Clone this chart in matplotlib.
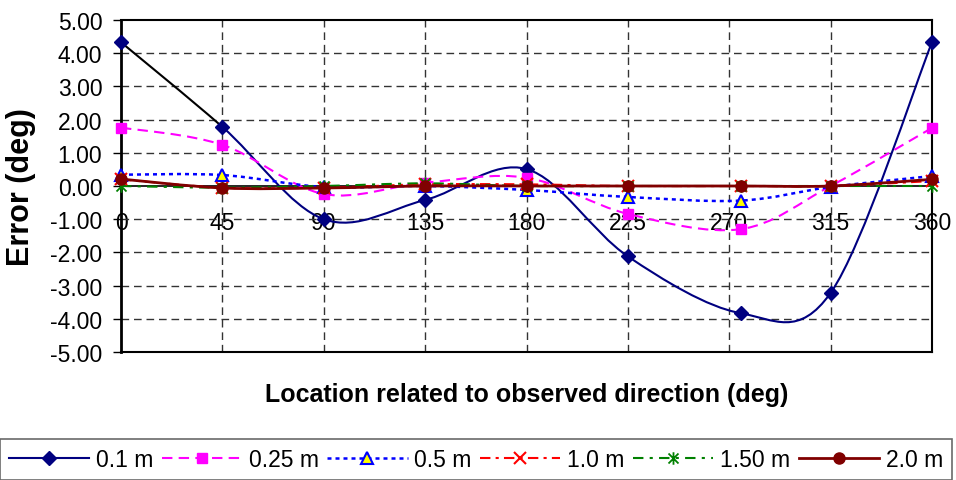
import numpy as np
import matplotlib
matplotlib.use("Agg")
import matplotlib.pyplot as plt
from matplotlib.path import Path
from matplotlib.patches import PathPatch
from matplotlib.lines import Line2D

plt.rcParams['font.family'] = ['Liberation Sans', 'DejaVu Sans']

# ---------------- data ----------------
locations = [0, 45, 90, 135, 180, 225, 275, 315, 360]
tick_values = [0, 45, 90, 135, 180, 225, 270, 315, 360]
tick_labels = ["0", "45", "90", "135", "180", "225", "270", "315", "360"]
series_names = ["0.1 m", "0.25 m", "0.5 m", "1.0 m", "1.50 m", "2.0 m"]
err_01 = [4.33, 1.78, -1.00, -0.42, 0.51, -2.12, -3.83, -3.22, 4.33]
err_025 = [1.76, 1.24, -0.24, 0.10, 0.25, -0.84, -1.30, 0.00, 1.75]
err_05 = [0.34, 0.33, -0.03, 0.00, -0.12, -0.33, -0.44, -0.03, 0.30]
err_10 = [0.20, -0.05, -0.05, 0.05, 0.05, 0.00, 0.00, 0.00, 0.15]
err_15 = [0.00, -0.05, 0.00, 0.08, 0.00, 0.00, 0.00, 0.00, 0.00]
err_20 = [0.21, -0.06, -0.06, 0.00, 0.00, 0.00, 0.00, 0.00, 0.20]
y_ticks = [-5, -4, -3, -2, -1, 0, 1, 2, 3, 4, 5]


def smooth_path(xs, ys, start=0, stop=None):
    """Excel-like smoothed line (Catmull-Rom Bezier) as a Path."""
    P = np.column_stack([xs, ys]).astype(float)
    n = len(P)
    if stop is None:
        stop = n - 1
    verts = [P[start]]
    codes = [Path.MOVETO]
    for i in range(start, stop):
        p0 = P[i - 1] if i > 0 else P[i]
        p1 = P[i]
        p2 = P[i + 1]
        p3 = P[i + 2] if i + 2 < n else P[i + 1]
        c1 = p1 + (p2 - p0) / 6.0
        c2 = p2 - (p3 - p1) / 6.0
        verts += [c1, c2, p2]
        codes += [Path.CURVE4] * 3
    return Path(verts, codes)


ast_marker = Path([(-1, -1), (1, 1), (-1, 1), (1, -1), (0, -1.25), (0, 1.25)],
                  [Path.MOVETO, Path.LINETO, Path.MOVETO, Path.LINETO, Path.MOVETO, Path.LINETO])

styles = [
    dict(color='#000080', ls='-', lw=1.5, marker='D', ms=7.5, mfc='#000080', mec='#000080', mew=1.0),
    dict(color='#FF00FF', ls=(0, (5, 3)), lw=1.5, marker='s', ms=7.5, mfc='#FF00FF', mec='#FF00FF', mew=1.0),
    dict(color='#0000FF', ls=(0, (1.6, 1.6)), lw=1.8, marker='^', ms=8, mfc='#FFFF00', mec='#0000FF', mew=1.5),
    dict(color='#FF0000', ls=(0, (5, 2.5, 1.5, 2.5)), lw=1.5, marker='x', ms=8, mfc='#FF0000', mec='#FF0000', mew=1.5),
    dict(color='#008000', ls=(0, (5, 3, 1.5, 3)), lw=1.5, marker=ast_marker, ms=9, mfc='#008000', mec='#008000', mew=1.3),
    dict(color='#800000', ls='-', lw=2.0, marker='o', ms=8, mfc='#800000', mec='#800000', mew=1.0),
]
all_series = [err_01, err_025, err_05, err_10, err_15, err_20]

fig = plt.figure(figsize=(9.56, 4.81), dpi=100)
ax = fig.add_axes([121 / 956, 1 - 353 / 481, (932 - 121) / 956, (353 - 21) / 481])

ax.set_xlim(0, 360)
ax.set_ylim(-5, 5)

# grid
for v in tick_values[1:-1]:
    ax.axvline(v, color='#333333', lw=1.0, ls=(0, (5.5, 3.5)), zorder=1)
for v in y_ticks[1:-1]:
    if v != 0:
        ax.axhline(v, color='#333333', lw=1.0, ls=(0, (5.5, 3.5)), zorder=1)

handles = []
for k, (vals, st) in enumerate(zip(all_series, styles)):
    if k == 0:
        p_first = smooth_path(locations, vals, 0, 1)
        ax.add_patch(PathPatch(p_first, fc='none', ec='black', lw=st['lw'], ls=st['ls'], zorder=3 + k))
        p_rest = smooth_path(locations, vals, 1)
        ax.add_patch(PathPatch(p_rest, fc='none', ec=st['color'], lw=st['lw'], ls=st['ls'], zorder=3 + k))
    else:
        p = smooth_path(locations, vals)
        ax.add_patch(PathPatch(p, fc='none', ec=st['color'], lw=st['lw'], ls=st['ls'],
                               capstyle='butt', zorder=3 + k))
    ax.plot(locations, vals, ls='none', marker=st['marker'], ms=st['ms'], mfc=st['mfc'],
            mec=st['mec'], mew=st['mew'], zorder=10 + k, clip_on=False)
    handles.append(Line2D([], [], color=st['color'], ls=st['ls'], lw=st['lw'], marker=st['marker'],
                          ms=st['ms'], mfc=st['mfc'], mec=st['mec'], mew=st['mew']))

# frame
for s in ['left', 'right', 'top', 'bottom']:
    ax.spines[s].set_color('black')
    ax.spines[s].set_linewidth(1.5)
ax.spines['left'].set_linewidth(2.0)

# main x axis: no ticks/labels
ax.set_xticks(tick_values)
ax.tick_params(axis='x', bottom=False, labelbottom=False)

# y axis
ax.set_yticks(y_ticks)
ax.set_yticklabels([f"{v:.2f}" for v in y_ticks])
ax.tick_params(axis='y', direction='out', length=5.5, width=1.0, pad=8, labelsize=16.5, colors='black')

# axis line at zero with the category labels
sec = ax.secondary_xaxis(0.5)
sec.set_xticks(tick_values)
sec.set_xticklabels(tick_labels)
sec.xaxis.set_ticks_position('bottom')
sec.xaxis.set_label_position('bottom')
sec.tick_params(axis='x', bottom=True, top=False, labelbottom=True, labeltop=False,
                length=0, pad=18, labelsize=16.5)
for s in ['top', 'bottom']:
    sec.spines[s].set_linewidth(1.2)
    sec.spines[s].set_color('black')

ax.set_xlabel("Location related to observed direction (deg)", fontsize=18, fontweight='bold')
ax.xaxis.set_label_coords(0.5, -0.09)
ax.set_ylabel("Error (deg)", fontsize=22, fontweight='bold')
ax.yaxis.set_label_coords(-0.105, 0.5)

leg = fig.legend(handles, series_names, loc='upper left',
                 bbox_to_anchor=(0.0, 1 - 440 / 481 - 0.1, 952 / 956, 0.1),
                 mode='expand', ncol=6, fontsize=16.5, frameon=True, fancybox=False, borderaxespad=0,
                 handlelength=3.5, handletextpad=0.3, columnspacing=0.4, borderpad=0.4)
leg.get_frame().set_edgecolor('#444444')
leg.get_frame().set_linewidth(1.2)

fig.savefig("out.png", dpi=100)
